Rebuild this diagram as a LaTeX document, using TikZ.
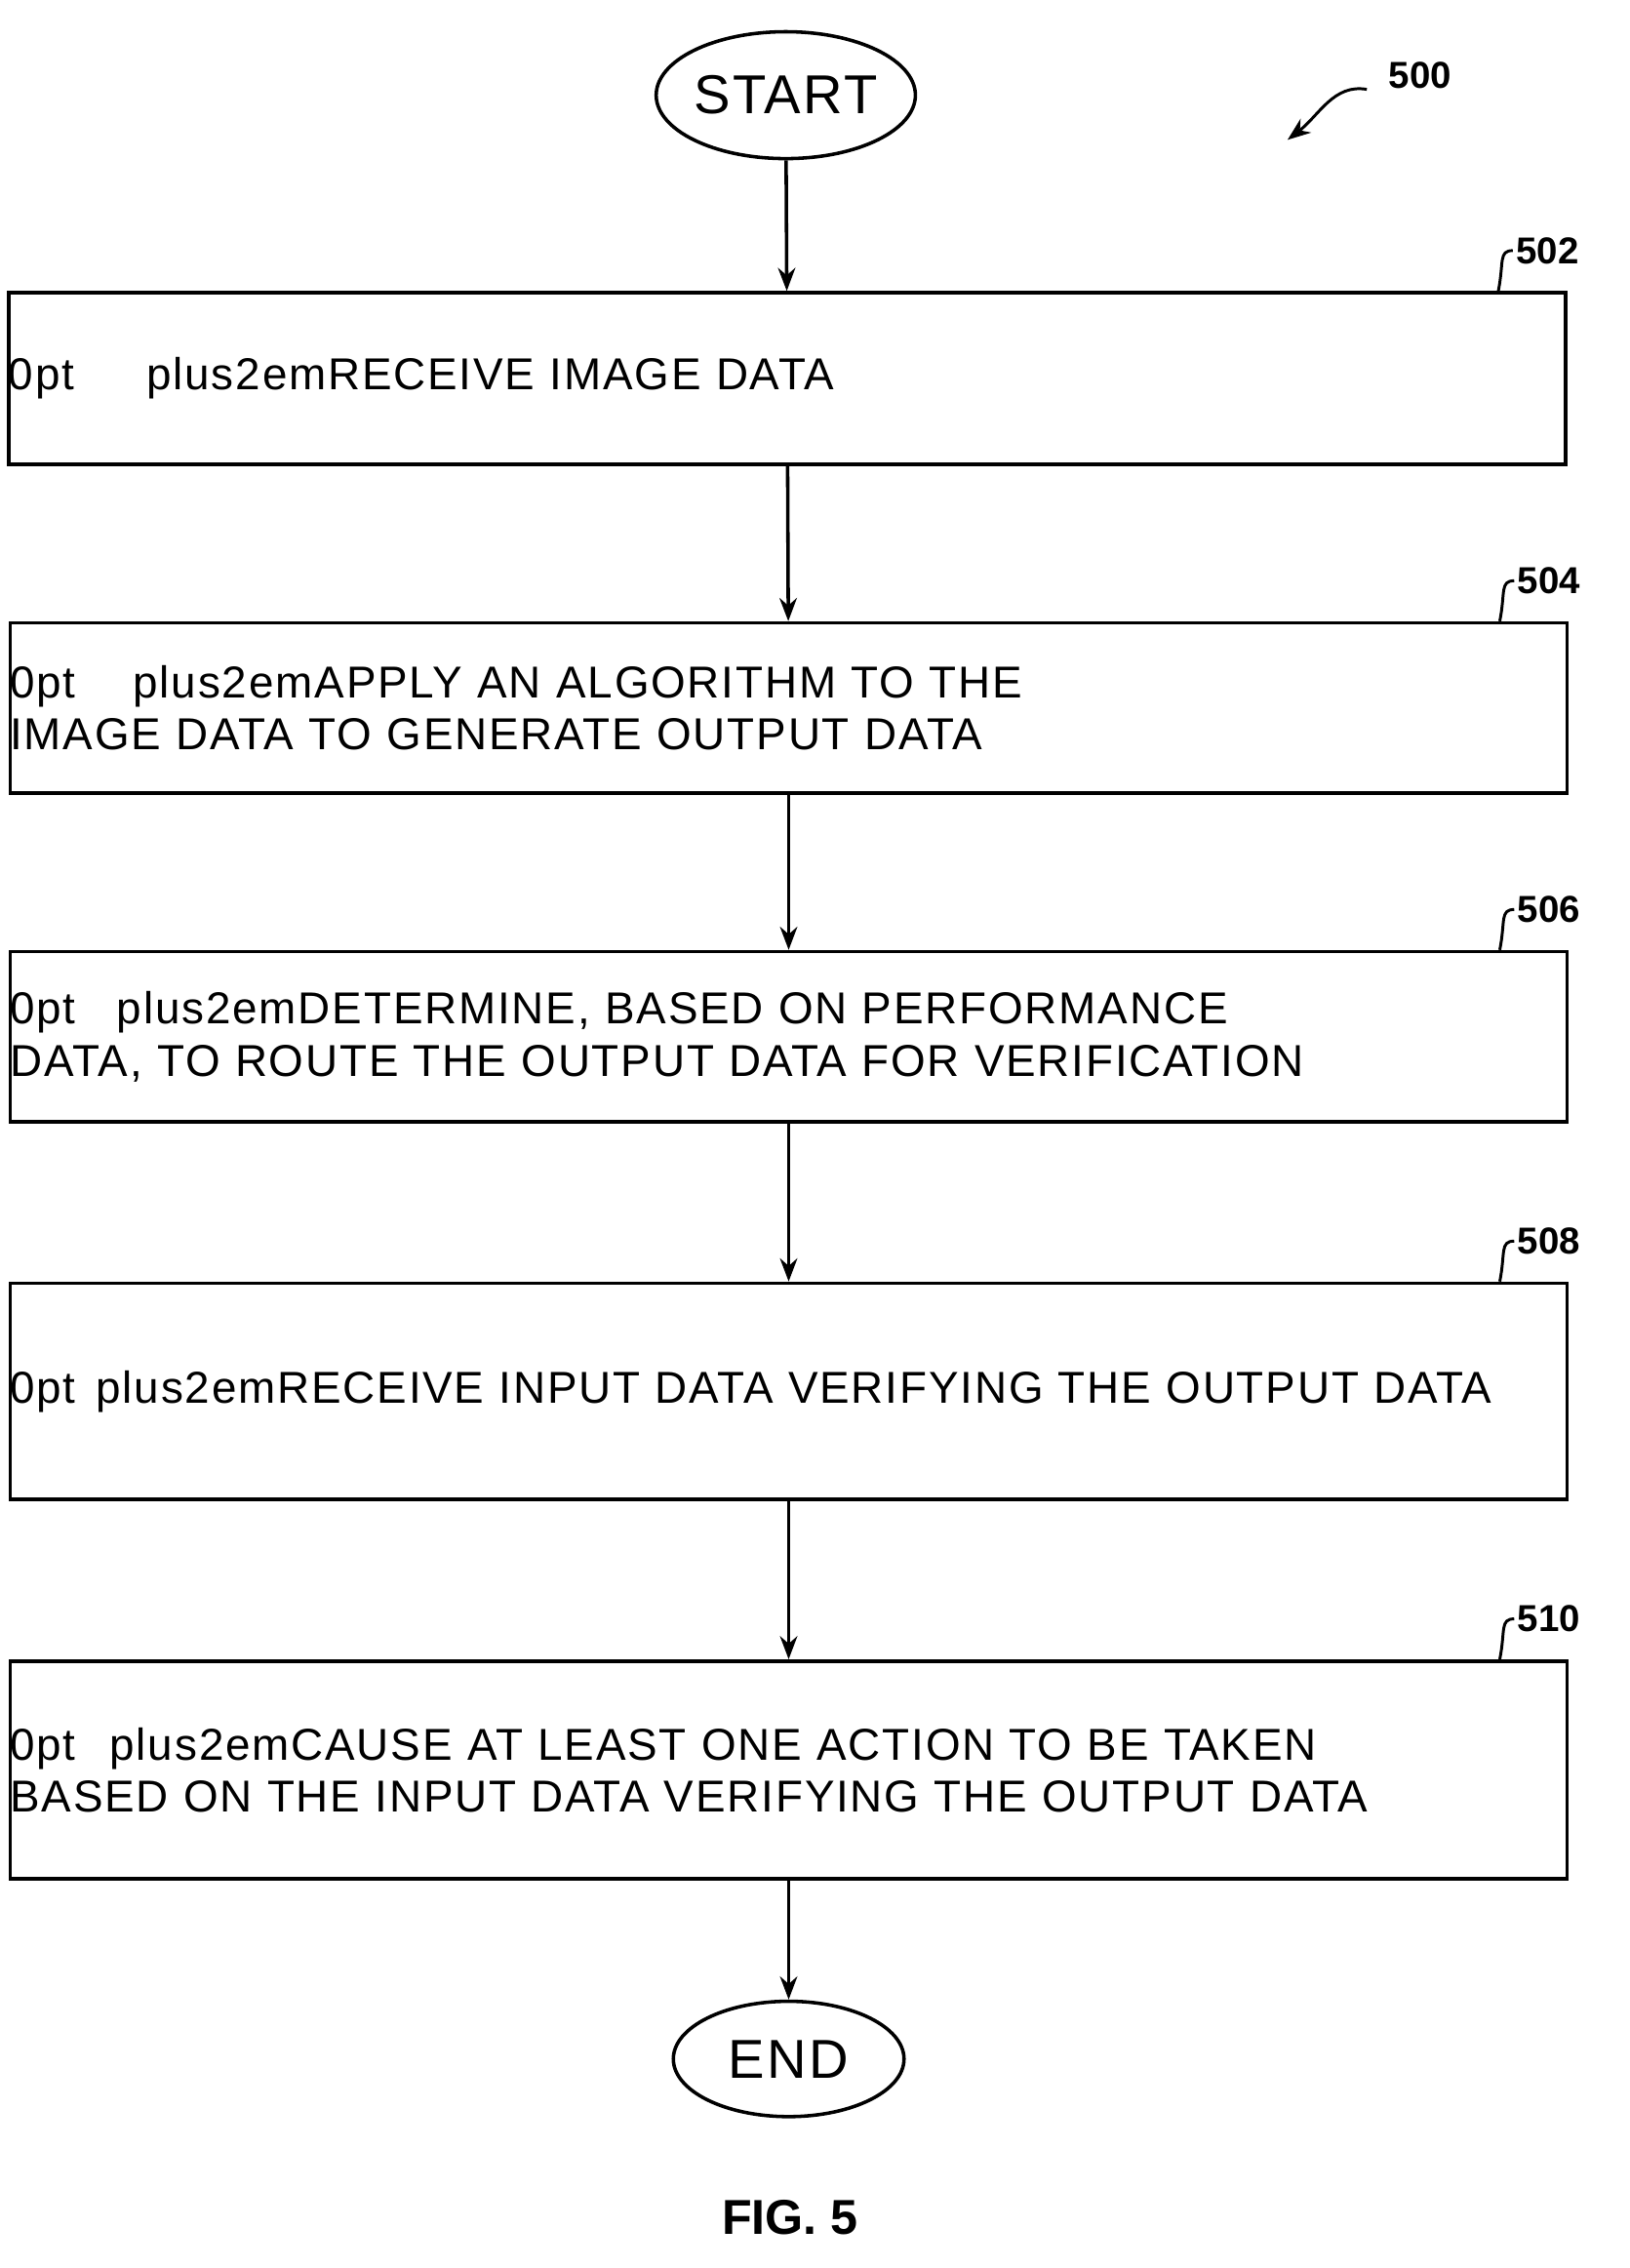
\documentclass[tikz,border=0pt]{standalone}
\usepackage{fontspec}
\setmainfont{Liberation Sans}
\newfontfamily\boxfont[LetterSpace=4]{Liberation Sans}
\usetikzlibrary{arrows.meta,shapes.geometric}
\begin{document}
\begin{tikzpicture}[x=0.5pt,y=-0.5pt,
  box/.style={draw,line width=1.2pt,minimum width=532pt,text width=540pt,align=center,font=\boxfont\fontsize{15.5}{18}\selectfont\hyphenpenalty=10000,inner sep=0pt},
  term/.style={draw,ellipse,line width=1.2pt,minimum width=80pt,minimum height=44pt,font=\boxfont\fontsize{19}{20}\selectfont,inner sep=0pt},
  arr/.style={line width=1.2pt,-{Stealth[length=8pt,width=6pt]}},
  lbl/.style={font=\bfseries\fontsize{13}{14}\selectfont,inner sep=1pt},
  lead/.style={line width=1pt}]
\useasboundingbox (0,0) rectangle (1130,1573);
\node[term] (s) at (545,66) {START};
\node[box,minimum height=59.5pt] (b1) at (546,262.5) {RECEIVE IMAGE DATA};
\node[box,minimum height=59pt] (b2) at (547,491) {APPLY AN ALGORITHM TO THE IMAGE DATA TO GENERATE OUTPUT DATA};
\node[box,minimum height=59pt] (b3) at (547,719) {DETERMINE, BASED ON PERFORMANCE DATA, TO ROUTE THE OUTPUT DATA FOR VERIFICATION};
\node[box,minimum height=75pt] (b4) at (547,965) {RECEIVE INPUT DATA VERIFYING THE OUTPUT DATA};
\node[box,minimum height=75.5pt] (b5) at (547,1227.5) {CAUSE AT LEAST ONE ACTION TO BE TAKEN BASED ON THE INPUT DATA VERIFYING THE OUTPUT DATA};
\node[term,minimum height=40pt] (e) at (547,1428) {END};
\node[lbl] (fig) at (548,1538) {\fontsize{17}{18}\selectfont FIG. 5};
\draw[arr] (s) -- (b1);
\draw[arr] (b1) -- (b2);
\draw[arr] (b2) -- (b3);
\draw[arr] (b3) -- (b4);
\draw[arr] (b4) -- (b5);
\draw[arr] (b5) -- (e);
\node[lbl] (n500) at (985,52) {500};
\coordinate (a500) at (893,97);
\draw[lead,-{Stealth[length=8pt,width=6pt]}] (948,62) .. controls (925,58) and (915,80) .. (a500);
\foreach \n/\b in {502/b1,504/b2,506/b3,508/b4,510/b5}{
  \node[lbl,anchor=west] (l\n) at ([xshift=-19pt,yshift=14pt]\b.north east) {\n};
  \draw[lead] ([xshift=-24pt]\b.north east) .. controls ([xshift=-22pt,yshift=10pt]\b.north east) and ([xshift=-5pt]l\n.west) .. (l\n.west);
}
\end{tikzpicture}
\end{document}
